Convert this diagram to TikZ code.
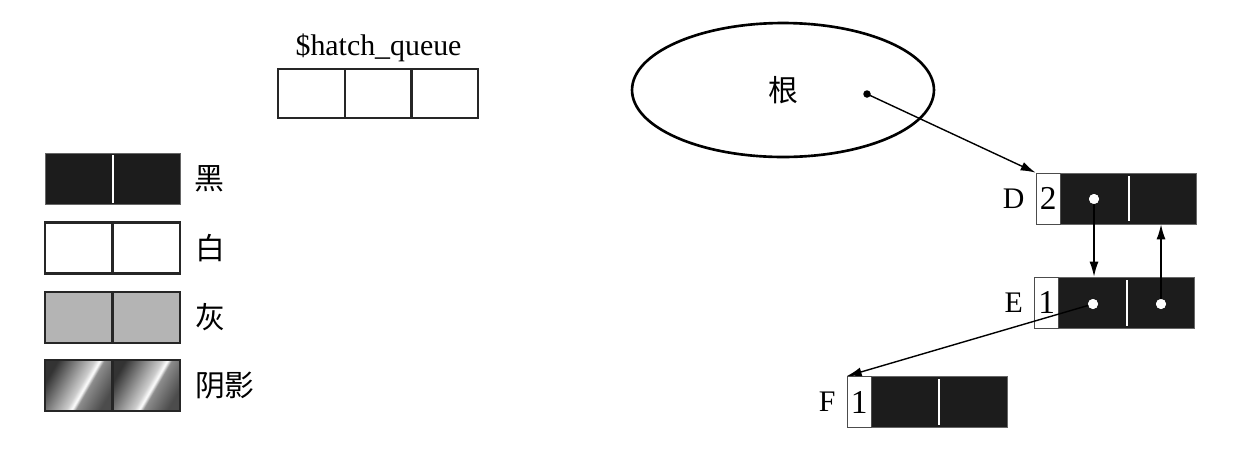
\documentclass[tikz,border=0pt]{standalone}
\usepackage{fontspec}
\setmainfont{Liberation Serif}
\newfontfamily\cjk{Noto Sans CJK SC}
\usepackage{tikz}
\usetikzlibrary{shapes.geometric, arrows.meta, positioning}
\definecolor{recblack}{RGB}{28,28,28}
\definecolor{graycell}{RGB}{180,180,180}
\pgfdeclarehorizontalshading{sheen}{100bp}{color(0bp)=(black!80); color(25bp)=(black!80); color(51bp)=(black!20); color(55bp)=(white); color(58bp)=(black!45); color(75bp)=(black!70); color(100bp)=(black!70)}

\begin{document}
\begin{tikzpicture}[x=0.02cm, y=-0.02cm,
    every node/.style={font=\fontsize{17}{20}\selectfont},
    legcell/.style={draw=black!85, line width=1.6pt, minimum width=1.35cm, minimum height=1.02cm, inner sep=0pt},
    qcell/.style={draw=black!85, line width=1.6pt, minimum width=1.34cm, minimum height=0.98cm, inner sep=0pt},
    record/.style={fill=recblack, draw=black!60, line width=0.4pt, minimum width=3.2cm, minimum height=1.02cm, inner sep=0pt},
    numcell/.style={fill=white, draw=black!70, line width=0.6pt, minimum width=0.48cm, minimum height=1.02cm, inner sep=0pt, anchor=north west, font=\fontsize{19}{20}\selectfont},
    hole/.style={circle, fill=white, minimum size=0.2cm, inner sep=0pt},
    rootdot/.style={circle, fill=black, minimum size=0.15cm, inner sep=0pt},
    divline/.style={white, line width=1.4pt},
    arr/.style={-{Latex[length=3mm, width=1.8mm]}, line width=0.8pt},
    rootell/.style={ellipse, draw, line width=1.5pt, minimum width=6.04cm, minimum height=2.68cm}
]
    \useasboundingbox (0,0) rectangle (1234,464);

    % legend
    \node[record, minimum width=2.7cm] (blkbox) at (112.5,179) {};
    \draw[divline] (113,155) -- (113,203);
    \node[right=1.5mm of blkbox] (blklab) {\cjk 黑};

    \node[legcell, fill=white] (whtl) at (78.75,248) {};
    \node[legcell, fill=white] (whtr) at (146.25,248) {};
    \node[right=1.5mm of whtr] (whtlab) {\cjk 白};

    \node[legcell, fill=graycell] (gryl) at (78.75,317.5) {};
    \node[legcell, fill=graycell] (gryr) at (146.25,317.5) {};
    \node[right=1.5mm of gryr] (grylab) {\cjk 灰};

    \node[legcell, shading=sheen, shading angle=-30] (shdl) at (78.75,385.5) {};
    \node[legcell, shading=sheen, shading angle=-30] (shdr) at (146.25,385.5) {};
    \node[right=1.5mm of shdr] (shdlab) {\cjk 阴影};

    % hatch queue
    \node[qcell] (q1) at (311.5,93.5) {};
    \node[qcell] (q2) at (378.5,93.5) {};
    \node[qcell] (q3) at (444.5,93.5) {};
    \node[above=0pt of q2] (qname) {\$hatch\_queue};

    % root set
    \node[rootell] (root) at (783,90) {\cjk 根};
    \node[rootdot] (rdot) at (867,94) {};

    % records
    \node[record] (d) at (1116,198.5) {};
    \node[numcell] (dnum) at (d.north west) {2};
    \draw[divline] (1129,176) -- (1129,221);
    \node[hole] (d1) at (1094,199) {};
    \node[left=1mm of d] (dname) {D};

    \node[record] (e) at (1114.5,302.5) {};
    \node[numcell] (enum) at (e.north west) {1};
    \draw[divline] (1127,280) -- (1127,326);
    \node[hole] (e1) at (1093,304) {};
    \node[hole] (e2) at (1161,304) {};
    \node[left=1mm of e] (ename) {E};

    \node[record] (f) at (927,402) {};
    \node[numcell] (fnum) at (f.north west) {1};
    \draw[divline] (939,379) -- (939,425);
    \node[left=1mm of f] (fname) {F};

    % pointers
    \draw[arr] (rdot.center) -- (d.north west);
    \draw[arr] (d1.center) -- (d1 |- e.north);
    \draw[arr] (e2.center) -- (e2 |- d.south);
    \draw[arr] (e1.center) -- (f.north west);
    \node[hole] at (d1) {};
    \node[hole] at (e1) {};
    \node[hole] at (e2) {};
\end{tikzpicture}
\end{document}
